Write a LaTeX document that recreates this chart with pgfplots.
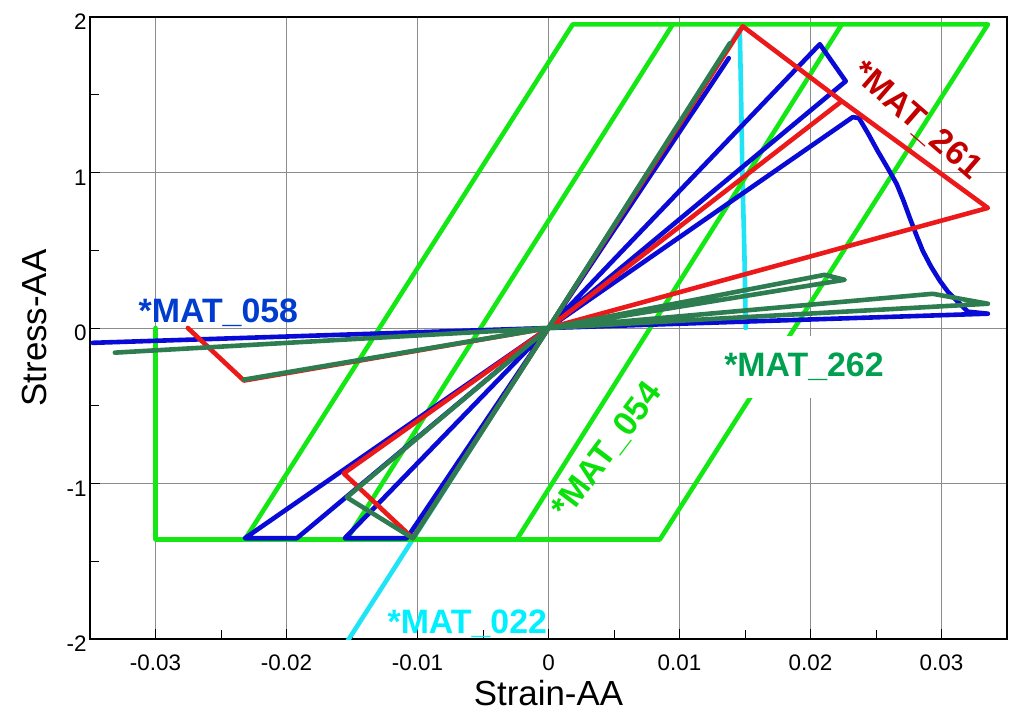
\documentclass[border=0pt]{standalone}
\usepackage{fontspec}
\setmainfont{Liberation Sans}
\usepackage{pgfplots}
\pgfplotsset{compat=1.18}
\definecolor{clime}{RGB}{20,232,20}
\definecolor{cblue}{RGB}{10,10,215}
\definecolor{cred}{RGB}{235,25,25}
\definecolor{cdkgreen}{RGB}{45,125,80}
\definecolor{ccyan}{RGB}{30,228,245}
\definecolor{lab058}{RGB}{0,60,205}
\definecolor{lab262}{RGB}{0,160,80}
\definecolor{lab054}{RGB}{10,225,10}
\definecolor{lab261}{RGB}{195,0,0}
\definecolor{lab022}{RGB}{0,240,255}
\begin{document}
\begin{tikzpicture}
\path[use as bounding box] (-90bp,-75bp) rectangle (921bp,639bp);
\begin{axis}[
  at={(0,0)}, anchor=south west,
  scale only axis, width=917bp, height=622bp,
  xmin=-0.035, xmax=0.035, ymin=-2, ymax=2,
  scaled x ticks=false, scaled y ticks=false,
  xtick={-0.03,-0.02,-0.01,0,0.01,0.02,0.03},
  xticklabels={-0.03,-0.02,-0.01,0,0.01,0.02,0.03},
  ytick={-2,-1,0,1,2}, yticklabels={-2,-1,0,1,2},
  minor x tick num=1, minor y tick num=1,
  tick align=inside, xtick pos=bottom, ytick pos=left,
  major tick length=10bp, minor tick length=9bp,
  tick style={black, line width=0.8bp},
  grid=major, major grid style={draw=gray!90, line width=0.8bp},
  axis line style={black, line width=1.2bp},
  ticklabel style={font=\fontsize{22.5}{26}\selectfont},
  xticklabel style={yshift=-12bp},
  yticklabel style={yshift=-5bp},
  xlabel={Strain-AA}, ylabel={Stress-AA},
  label style={font=\fontsize{35}{40}\selectfont},
  xlabel style={at={(axis description cs:0.5,-0.0868)}, anchor=center},
  ylabel style={at={(axis description cs:-0.060,0.5)}, anchor=center},
  every axis plot/.append style={line width=4.6bp, line join=round, line cap=round, mark=none},
]
% MAT_022 (cyan)
\addplot[color=ccyan] coordinates {(-0.0160,-2.10) (0,0) (0.01460,1.92) (0.01470,1.5) (0.01480,1.0) (0.01495,0.5) (0.01506,0)};
% MAT_054 (lime)
\addplot[color=clime] coordinates {(-0.0300,0) (-0.0300,-1.36) (0.0085,-1.36) (0.03354,1.953) (0.00185,1.953) (-0.02318,-1.36)};
\addplot[color=clime] coordinates {(-0.01540,-1.36) (0.00949,1.953)};
\addplot[color=clime] coordinates {(-0.00242,-1.36) (0.02239,1.953)};
% MAT_058 (blue)
\addplot[color=cblue] coordinates {(0,0) (0.01376,1.735) (0,0) (-0.01082,-1.352) (-0.01555,-1.352) (0,0) (0.02071,1.825) (0.02269,1.587) (0,0) (-0.01921,-1.352) (-0.02318,-1.352) (0,0) (0.02322,1.356) (0.02370,1.350) (0.02440,1.250) (0.02513,1.138) (0.02588,1.030) (0.02658,0.926) (0.02710,0.818) (0.02758,0.708) (0.02807,0.600) (0.02857,0.496) (0.02920,0.395) (0.02987,0.304) (0.03050,0.232) (0.03117,0.175) (0.03165,0.135) (0.03201,0.105) (0.03354,0.092) (0,0) (-0.03479,-0.0954)};
% MAT_261 (red)
\addplot[color=cred] coordinates {(0,0) (0.01483,1.94) (0.02239,1.459) (0,0) (-0.01036,-1.352) (-0.01563,-0.935) (0,0) (0.02239,1.459) (0.03354,0.772) (0,0) (-0.02325,-0.338) (-0.02753,0)};
% MAT_262 (dark green)
\addplot[color=cdkgreen] coordinates {(0,0) (0.01384,1.831) (0,0) (-0.01036,-1.352) (-0.01540,-1.089) (0,0) (0.02108,0.342) (0.02261,0.310) (0,0) (-0.02325,-0.332) (0,0) (0.02933,0.220) (0.03354,0.156) (0,0) (-0.0331,-0.1585)};
% labels
\node[font=\bfseries\fontsize{34}{38}\selectfont, text=lab058, anchor=base, inner sep=0pt] at (axis cs:-0.0252,0.034) {*MAT\_058};
\node[font=\bfseries\fontsize{34}{38}\selectfont, text=lab262, fill=white, inner xsep=8bp, inner ysep=17bp, anchor=base] at (axis cs:0.0195,-0.3126) {*MAT\_262};
\node[font=\bfseries\fontsize{34}{38}\selectfont, text=lab054, rotate=53, inner sep=0pt] at (axis cs:0.00449,-0.789) {*MAT\_054};
\node[font=\bfseries\fontsize{34}{38}\selectfont, text=lab261, rotate=-41, inner sep=0pt] at (axis cs:0.02811,1.332) {*MAT\_261};
\node[font=\bfseries\fontsize{34}{38}\selectfont, text=lab022, anchor=base, inner sep=0pt] at (axis cs:-0.0062,-1.962) {*MAT\_022};
\end{axis}
\end{tikzpicture}
\end{document}
